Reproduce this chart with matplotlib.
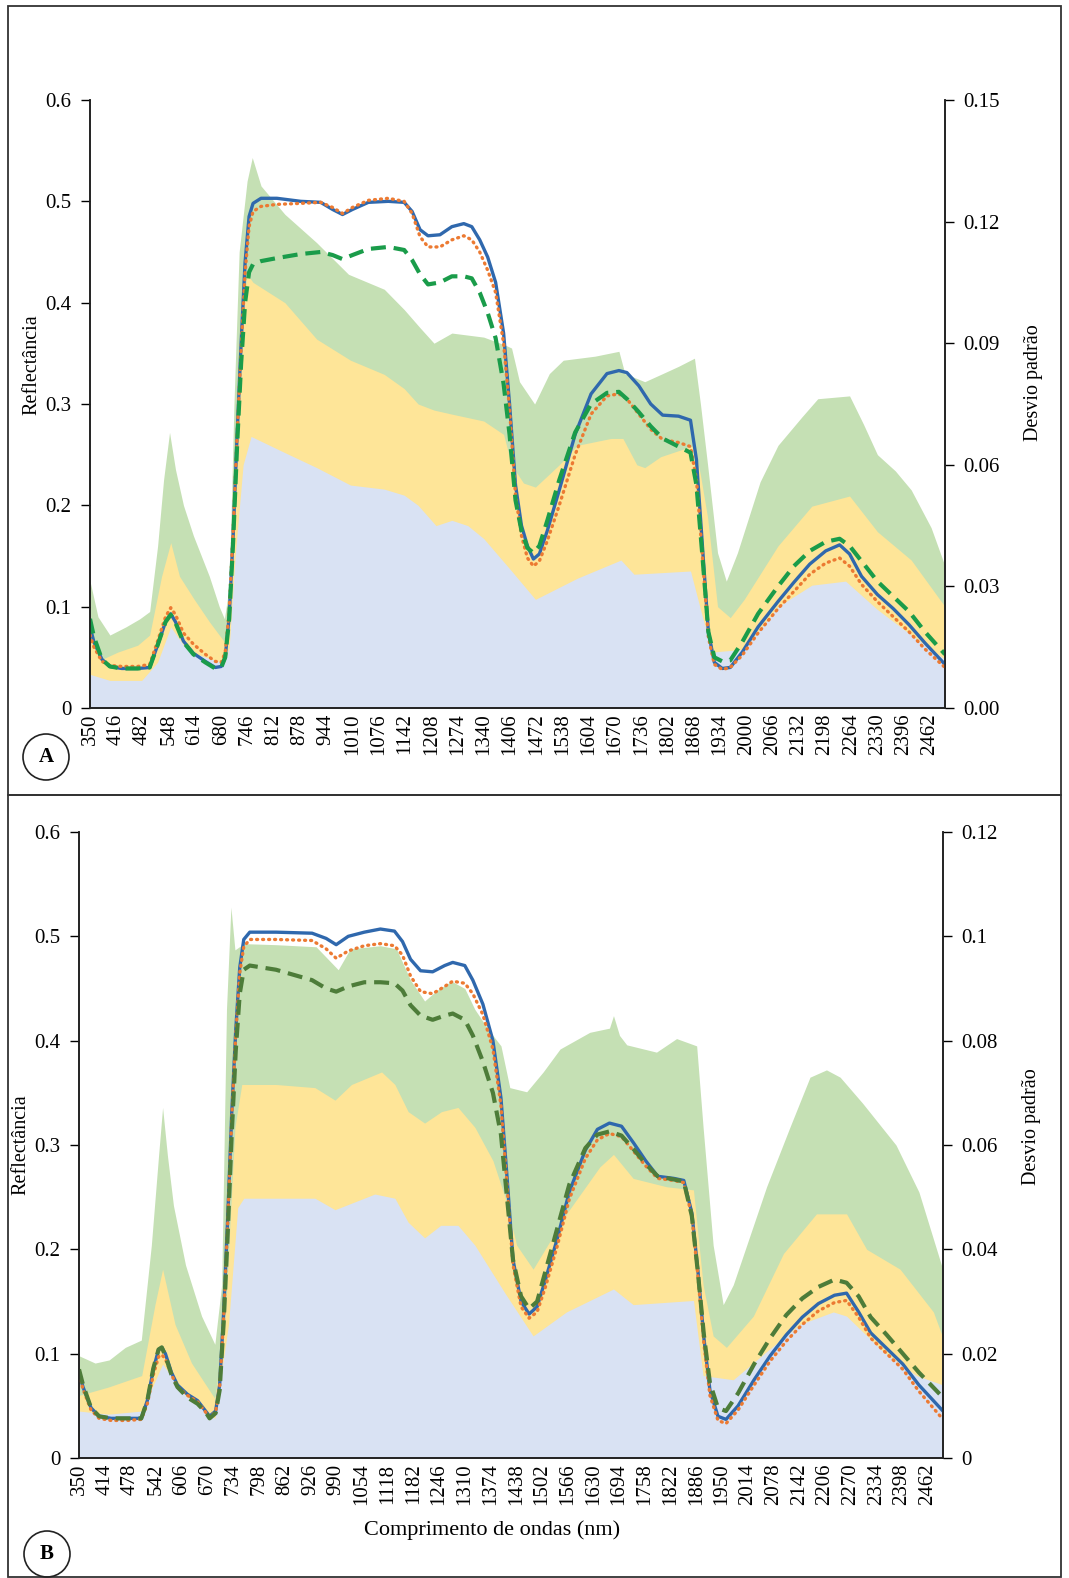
import matplotlib
matplotlib.use("Agg")
import matplotlib.pyplot as plt
import numpy as np
from matplotlib.patches import Rectangle, Ellipse

plt.rcParams['font.family'] = ['Liberation Serif', 'DejaVu Serif']

# ---------------- panel A : mean reflectance (left axis) ----------------
wl_a = [350, 360, 380, 400, 430, 470, 500, 520, 540, 553, 565, 585, 610, 640, 665, 680,
        690, 700, 710, 720, 730, 740, 750, 760, 780, 820, 880, 930, 960, 985, 1010, 1050,
        1100, 1140, 1160, 1180, 1200, 1230, 1260, 1290, 1310, 1330, 1350, 1370, 1390, 1405,
        1420, 1435, 1450, 1465, 1480, 1500, 1530, 1570, 1610, 1650, 1680, 1700, 1730, 1760,
        1790, 1830, 1860, 1875, 1890, 1905, 1920, 1940, 1960, 1990, 2030, 2080, 2120, 2160,
        2200, 2235, 2260, 2290, 2330, 2370, 2410, 2450, 2500]
a_blue = [0.080, 0.065, 0.048, 0.041, 0.039, 0.039, 0.040, 0.062, 0.085, 0.093, 0.085, 0.066,
          0.054, 0.046, 0.040, 0.041, 0.050, 0.090, 0.170, 0.270, 0.360, 0.440, 0.485, 0.498,
          0.503, 0.503, 0.500, 0.499, 0.492, 0.487, 0.492, 0.499, 0.500, 0.499, 0.490, 0.472,
          0.466, 0.467, 0.475, 0.478, 0.475, 0.462, 0.445, 0.420, 0.370, 0.300, 0.220, 0.180,
          0.160, 0.147, 0.152, 0.175, 0.215, 0.270, 0.310, 0.330, 0.333, 0.331, 0.318, 0.300,
          0.289, 0.288, 0.284, 0.245, 0.160, 0.075, 0.045, 0.039, 0.040, 0.055, 0.080, 0.105,
          0.124, 0.142, 0.155, 0.161, 0.152, 0.130, 0.112, 0.098, 0.082, 0.064, 0.043]
a_orange = [0.072, 0.060, 0.046, 0.042, 0.041, 0.041, 0.043, 0.066, 0.090, 0.099, 0.092, 0.074,
            0.063, 0.053, 0.046, 0.045, 0.055, 0.095, 0.175, 0.270, 0.355, 0.430, 0.475, 0.490,
            0.495, 0.497, 0.498, 0.499, 0.494, 0.488, 0.494, 0.501, 0.503, 0.500, 0.488, 0.465,
            0.455, 0.455, 0.462, 0.466, 0.462, 0.450, 0.432, 0.410, 0.360, 0.295, 0.210, 0.170,
            0.148, 0.140, 0.145, 0.165, 0.200, 0.250, 0.290, 0.308, 0.310, 0.305, 0.290, 0.275,
            0.265, 0.262, 0.258, 0.225, 0.150, 0.070, 0.043, 0.038, 0.040, 0.052, 0.074, 0.098,
            0.115, 0.132, 0.143, 0.148, 0.140, 0.122, 0.105, 0.090, 0.075, 0.058, 0.040]
a_green = [0.088, 0.070, 0.048, 0.041, 0.039, 0.039, 0.040, 0.062, 0.085, 0.092, 0.084, 0.065,
           0.053, 0.045, 0.039, 0.040, 0.050, 0.088, 0.165, 0.260, 0.340, 0.400, 0.430, 0.438,
           0.441, 0.444, 0.448, 0.450, 0.447, 0.443, 0.447, 0.453, 0.455, 0.452, 0.442, 0.428,
           0.418, 0.420, 0.426, 0.426, 0.424, 0.410, 0.390, 0.365, 0.320, 0.270, 0.205, 0.175,
           0.158, 0.153, 0.160, 0.185, 0.225, 0.272, 0.300, 0.311, 0.312, 0.305, 0.292, 0.278,
           0.266, 0.258, 0.252, 0.220, 0.150, 0.075, 0.050, 0.046, 0.047, 0.065, 0.093, 0.120,
           0.140, 0.155, 0.164, 0.167, 0.160, 0.145, 0.125, 0.110, 0.095, 0.075, 0.053]

# panel A : standard deviation (right axis)
a_sd_green_wl = [350, 370, 400, 440, 475, 500, 520, 535, 550, 565, 585, 610, 650, 675, 688, 700,
                 712, 725, 745, 758, 780, 840, 920, 1000, 1090, 1140, 1180, 1215, 1260, 1340,
                 1395, 1410, 1430, 1468, 1505, 1540, 1620, 1680, 1695, 1745, 1790, 1830, 1870,
                 1885, 1903, 1928, 1950, 1978, 2035, 2080, 2140, 2180, 2260, 2295, 2330, 2375,
                 2415, 2465, 2500]
a_sd_green = [0.0313, 0.0225, 0.0180, 0.0200, 0.0220, 0.0238, 0.0400, 0.0563, 0.0680, 0.0588,
              0.0500, 0.0425, 0.0325, 0.0250, 0.0220, 0.0300, 0.0750, 0.1125, 0.1300, 0.1358,
              0.1288, 0.1218, 0.1148, 0.1070, 0.1033, 0.0983, 0.0938, 0.0900, 0.0925, 0.0915,
              0.0895, 0.0888, 0.0805, 0.0750, 0.0825, 0.0858, 0.0868, 0.0880, 0.0825, 0.0805,
              0.0825, 0.0843, 0.0863, 0.0750, 0.0600, 0.0383, 0.0313, 0.0383, 0.0558, 0.0648,
              0.0718, 0.0763, 0.0770, 0.0700, 0.0625, 0.0585, 0.0538, 0.0445, 0.0350]
a_sd_yellow_wl = [350, 380, 420, 470, 500, 530, 553, 575, 612, 650, 688, 700, 715, 730, 745, 760,
                  840, 920, 1005, 1090, 1140, 1175, 1215, 1260, 1340, 1390, 1410, 1440, 1470,
                  1530, 1575, 1660, 1690, 1725, 1745, 1785, 1870, 1885, 1903, 1928, 1960, 1995,
                  2080, 2165, 2260, 2330, 2415, 2500]
a_sd_yellow = [0.0175, 0.0120, 0.0138, 0.0155, 0.0180, 0.0325, 0.0408, 0.0325, 0.0268, 0.0213,
               0.0163, 0.0250, 0.0625, 0.0950, 0.1070, 0.1050, 0.1000, 0.0910, 0.0858, 0.0823,
               0.0788, 0.0750, 0.0735, 0.0725, 0.0708, 0.0675, 0.0600, 0.0555, 0.0545, 0.0600,
               0.0648, 0.0665, 0.0665, 0.0600, 0.0593, 0.0620, 0.0648, 0.0575, 0.0470, 0.0250,
               0.0223, 0.0268, 0.0400, 0.0498, 0.0523, 0.0435, 0.0365, 0.0250]
a_sd_blue_wl = [350, 400, 480, 520, 553, 585, 612, 688, 700, 715, 735, 755, 840, 920, 1005, 1090,
                1140, 1175, 1220, 1260, 1300, 1340, 1410, 1470, 1575, 1685, 1718, 1860, 1890,
                1915, 1995, 2080, 2165, 2250, 2330, 2415, 2500]
a_sd_blue = [0.0083, 0.0068, 0.0068, 0.0113, 0.0200, 0.0155, 0.0135, 0.0110, 0.0150, 0.0375,
             0.0600, 0.0670, 0.0630, 0.0593, 0.0550, 0.0540, 0.0525, 0.0500, 0.0450, 0.0463,
             0.0450, 0.0418, 0.0338, 0.0268, 0.0320, 0.0365, 0.0330, 0.0338, 0.0225, 0.0138,
             0.0145, 0.0250, 0.0303, 0.0313, 0.0243, 0.0180, 0.0120]

# ---------------- panel B : mean reflectance (left axis) ----------------
wl_b = [350, 360, 380, 400, 430, 470, 505, 520, 535, 548, 556, 565, 580, 595, 620, 645, 665, 675,
        690, 700, 710, 720, 730, 740, 750, 760, 775, 840, 930, 965, 990, 1020, 1060, 1100, 1135,
        1155, 1175, 1200, 1230, 1260, 1280, 1310, 1330, 1355, 1380, 1400, 1415, 1430, 1450, 1470,
        1490, 1510, 1540, 1570, 1610, 1640, 1670, 1700, 1730, 1760, 1790, 1830, 1855, 1875, 1890,
        1905, 1920, 1940, 1960, 1990, 2030, 2070, 2110, 2150, 2190, 2230, 2260, 2290, 2320, 2360,
        2400, 2440, 2500]
b_blue = [0.082, 0.068, 0.048, 0.040, 0.038, 0.038, 0.038, 0.055, 0.085, 0.104, 0.106, 0.100,
          0.082, 0.070, 0.061, 0.055, 0.045, 0.040, 0.045, 0.070, 0.140, 0.230, 0.330, 0.410,
          0.470, 0.497, 0.504, 0.504, 0.503, 0.498, 0.492, 0.500, 0.504, 0.507, 0.505, 0.495,
          0.478, 0.467, 0.466, 0.472, 0.475, 0.472, 0.458, 0.435, 0.400, 0.345, 0.270, 0.190,
          0.150, 0.138, 0.145, 0.170, 0.210, 0.255, 0.295, 0.315, 0.321, 0.318, 0.302, 0.285,
          0.270, 0.268, 0.266, 0.235, 0.180, 0.115, 0.065, 0.040, 0.037, 0.050, 0.075, 0.098,
          0.118, 0.135, 0.148, 0.156, 0.158, 0.140, 0.120, 0.105, 0.090, 0.070, 0.045]
b_orange = [0.080, 0.066, 0.046, 0.038, 0.036, 0.036, 0.037, 0.052, 0.080, 0.097, 0.099, 0.095,
            0.080, 0.068, 0.060, 0.054, 0.044, 0.039, 0.044, 0.068, 0.135, 0.225, 0.325, 0.405,
            0.465, 0.490, 0.497, 0.497, 0.496, 0.488, 0.479, 0.486, 0.491, 0.493, 0.491, 0.482,
            0.462, 0.447, 0.445, 0.452, 0.457, 0.455, 0.445, 0.425, 0.392, 0.338, 0.262, 0.185,
            0.145, 0.134, 0.140, 0.163, 0.203, 0.248, 0.287, 0.305, 0.311, 0.308, 0.294, 0.280,
            0.268, 0.266, 0.264, 0.232, 0.175, 0.110, 0.060, 0.036, 0.033, 0.046, 0.070, 0.093,
            0.112, 0.128, 0.141, 0.149, 0.151, 0.135, 0.115, 0.100, 0.085, 0.064, 0.037]
b_green = [0.085, 0.070, 0.048, 0.040, 0.038, 0.038, 0.038, 0.055, 0.086, 0.104, 0.106, 0.098,
           0.080, 0.068, 0.058, 0.052, 0.044, 0.038, 0.043, 0.065, 0.130, 0.215, 0.310, 0.390,
           0.445, 0.468, 0.472, 0.468, 0.458, 0.450, 0.447, 0.452, 0.456, 0.456, 0.455, 0.448,
           0.434, 0.424, 0.420, 0.424, 0.426, 0.420, 0.405, 0.380, 0.350, 0.310, 0.250, 0.190,
           0.155, 0.143, 0.150, 0.178, 0.220, 0.262, 0.297, 0.310, 0.313, 0.309, 0.296, 0.282,
           0.270, 0.267, 0.265, 0.232, 0.178, 0.118, 0.072, 0.048, 0.045, 0.062, 0.090, 0.115,
           0.137, 0.153, 0.164, 0.171, 0.168, 0.155, 0.135, 0.118, 0.100, 0.082, 0.058]

# panel B : standard deviation (right axis)
b_sd_green_wl = [350, 390, 425, 465, 505, 530, 548, 558, 570, 585, 615, 655, 688, 705, 717, 728,
                 738, 760, 840, 940, 970, 995, 1025, 1100, 1140, 1175, 1210, 1240, 1277, 1310,
                 1335, 1370, 1400, 1422, 1464, 1505, 1547, 1621, 1670, 1680, 1695, 1713, 1787,
                 1837, 1887, 1903, 1928, 1953, 1978, 2061, 2119, 2169, 2210, 2244, 2300, 2383,
                 2440, 2500]
b_sd_green = [0.0196, 0.0182, 0.0188, 0.0212, 0.0226, 0.0408, 0.0580, 0.0672, 0.0580, 0.0484,
              0.0370, 0.0272, 0.0218, 0.0332, 0.0860, 0.1056, 0.0974, 0.0986, 0.0984, 0.0980,
              0.0956, 0.0936, 0.0976, 0.0982, 0.0976, 0.0916, 0.0876, 0.0896, 0.0914, 0.0900,
              0.0860, 0.0820, 0.0790, 0.0710, 0.0702, 0.0740, 0.0784, 0.0816, 0.0824, 0.0848,
              0.0810, 0.0792, 0.0778, 0.0804, 0.0790, 0.0634, 0.0408, 0.0294, 0.0332, 0.0520,
              0.0634, 0.0730, 0.0744, 0.0730, 0.0680, 0.0600, 0.0510, 0.0360]
b_sd_yellow_wl = [350, 423, 506, 539, 558, 589, 630, 688, 713, 738, 755, 840, 937, 987, 1028,
                  1103, 1136, 1169, 1210, 1252, 1293, 1335, 1380, 1410, 1439, 1480, 1563, 1646,
                  1680, 1729, 1812, 1879, 1903, 1928, 1961, 2028, 2103, 2185, 2260, 2310, 2393,
                  2476, 2500]
b_sd_yellow = [0.0120, 0.0136, 0.0158, 0.0294, 0.0362, 0.0256, 0.0182, 0.0114, 0.0256, 0.0634,
               0.0716, 0.0716, 0.0710, 0.0686, 0.0716, 0.0740, 0.0716, 0.0664, 0.0642, 0.0664,
               0.0672, 0.0634, 0.0570, 0.0500, 0.0408, 0.0362, 0.0468, 0.0558, 0.0582, 0.0536,
               0.0520, 0.0514, 0.0332, 0.0234, 0.0212, 0.0272, 0.0392, 0.0468, 0.0468, 0.0400,
               0.0362, 0.0280, 0.0230]
b_sd_blue_wl = [350, 423, 506, 558, 614, 688, 722, 745, 760, 937, 987, 1086, 1136, 1169, 1210,
                1250, 1293, 1335, 1410, 1480, 1563, 1680, 1729, 1879, 1903, 1978, 2061, 2144,
                2227, 2260, 2351, 2434, 2500]
b_sd_blue = [0.0090, 0.0084, 0.0090, 0.0180, 0.0120, 0.0076, 0.0256, 0.0480, 0.0498, 0.0498,
             0.0476, 0.0506, 0.0498, 0.0452, 0.0422, 0.0446, 0.0446, 0.0408, 0.0316, 0.0234,
             0.0280, 0.0324, 0.0294, 0.0302, 0.0158, 0.0150, 0.0204, 0.0256, 0.0280, 0.0272,
             0.0204, 0.0158, 0.0140]

refl_ticks = [0, 0.1, 0.2, 0.3, 0.4, 0.5, 0.6]
refl_labels = ["0", "0.1", "0.2", "0.3", "0.4", "0.5", "0.6"]
sd_ticks_a = [0, 0.03, 0.06, 0.09, 0.12, 0.15]
sd_labels_a = ["0.00", "0.03", "0.06", "0.09", "0.12", "0.15"]
sd_ticks_b = [0, 0.02, 0.04, 0.06, 0.08, 0.10, 0.12]
sd_labels_b = ["0", "0.02", "0.04", "0.06", "0.08", "0.1", "0.12"]

C_BLUE, C_ORANGE = "#2f68ad", "#ec7a32"
F_BLUE, F_YELLOW, F_GREEN = "#d9e2f3", "#fee598", "#c5e0b4"

W, H = 1069, 1578
fig = plt.figure(figsize=(W / 100, H / 100), dpi=100)


def px_rect(left, top, right, bottom):
    return [left / W, 1 - bottom / H, (right - left) / W, (bottom - top) / H]


def panel(rect, wl, blue, orange, green, green_col, fills, sd_ticks, sd_labels,
          tick_step, ylab_x, ylab_y, rlab_y):
    ax = fig.add_axes(rect)
    ax2 = ax.twinx()
    for fwl, fv, col in fills:
        ax2.fill_between(fwl, 0, fv, color=col, lw=0)
    ax.plot(wl, blue, color=C_BLUE, lw=2.4, solid_capstyle='round')
    ax.plot(wl, orange, color=C_ORANGE, lw=2.4, linestyle=(0, (0.3, 1.5)),
            dash_capstyle='round')
    ax.plot(wl, green, color=green_col, lw=3.0, linestyle=(0, (3.6, 1.9)))
    ax.set_zorder(ax2.get_zorder() + 1)
    ax.patch.set_visible(False)

    ax.set_xlim(350, 2500)
    ax.set_ylim(0, 0.6)
    ax2.set_ylim(0, sd_ticks[-1])
    ticks = np.arange(350, 2463, tick_step)
    ax.set_xticks(ticks)
    ax.set_xticklabels([str(t) for t in ticks], rotation=90, fontsize=15)
    ax.tick_params(axis='x', length=0, pad=4)
    ax.set_yticks(refl_ticks)
    ax.set_yticklabels(refl_labels, fontsize=15)
    ax.tick_params(axis='y', length=6.5, width=1, pad=7, direction='out')
    ax2.set_yticks(sd_ticks)
    ax2.set_yticklabels(sd_labels, fontsize=15)
    ax2.tick_params(axis='y', length=6.5, width=1, pad=6.5, direction='out')
    for a in (ax, ax2):
        a.spines['top'].set_visible(False)
        for s in ('left', 'right', 'bottom'):
            a.spines[s].set_linewidth(1.2)
            a.spines[s].set_color('#222222')
    ax.set_ylabel("Reflectância", fontsize=14.5)
    ax.yaxis.set_label_coords(ylab_x, ylab_y)
    ax2.set_ylabel("Desvio padrão", fontsize=14.5, rotation=90)
    ax2.yaxis.set_label_coords(1.092, rlab_y)
    return ax


panel(px_rect(90, 100, 945, 708), wl_a, a_blue, a_orange, a_green, "#1a9c4a",
      [(a_sd_green_wl, a_sd_green, F_GREEN),
       (a_sd_yellow_wl, a_sd_yellow, F_YELLOW),
       (a_sd_blue_wl, a_sd_blue, F_BLUE)],
      sd_ticks_a, sd_labels_a, 66, -0.057, 0.565, 0.535)

axb = panel(px_rect(79, 832, 943, 1458), wl_b, b_blue, b_orange, b_green, "#4d7c39",
            [(b_sd_green_wl, b_sd_green, F_GREEN),
             (b_sd_yellow_wl, b_sd_yellow, F_YELLOW),
             (b_sd_blue_wl, b_sd_blue, F_BLUE)],
            sd_ticks_b, sd_labels_b, 64, -0.056, 0.50, 0.53)
axb.set_xlabel("Comprimento de ondas (nm)", fontsize=16)
axb.xaxis.set_label_coords(0.478, -0.10)

# panel frames
for top, bottom in ((6, 795), (795, 1577)):
    fig.add_artist(Rectangle((8 / W, 1 - bottom / H), (1061 - 8) / W, (bottom - top) / H,
                             transform=fig.transFigure, fill=False, lw=1.3, ec='#333333'))

# panel letters in circles
for letter, cx, cy in (("A", 46, 757), ("B", 47, 1554)):
    r = 23
    fig.add_artist(Ellipse((cx / W, 1 - cy / H), 2 * r / W, 2 * r / H,
                           transform=fig.transFigure, fill=False, lw=1.2, ec='#222222'))
    fig.text(cx / W, 1 - cy / H, letter, ha='center', va='center', fontsize=15,
             fontweight='bold')

fig.savefig("out.png", dpi=100)
